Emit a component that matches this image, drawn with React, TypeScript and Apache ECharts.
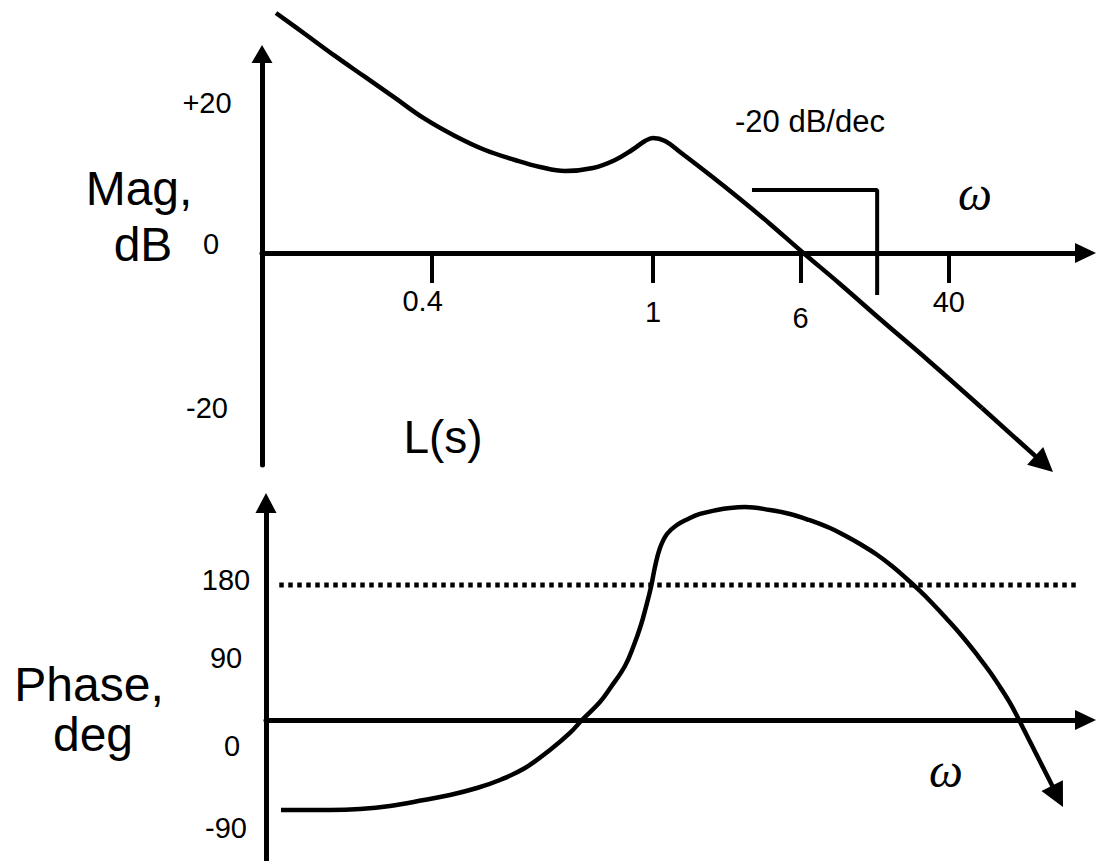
import React, { useEffect, useRef } from "react";
import * as echarts from "echarts";

// Schematic frequency axis: positions in "ω units" (0 = vertical axis, 100 = end of the ω axis)
const freqTickPos = [20.6, 47.5, 65.4, 83.4];
const freqTickLabels = ["0.4", "1", "6", "40"];

const magTickValues = [20, 0, -20];
const magTickLabels = ["+20", "0", "-20"];

const phaseTickValues = [180, 90, 0, -90];
const phaseTickLabels = ["180", "90", "0", "-90"];

// Magnitude curve, dB
const magCurve = [
  [1.70, 32.0], [5.22, 29.2], [8.86, 26.27], [12.51, 23.47], [16.15, 20.67], [19.79, 17.87],
  [23.44, 15.6], [27.08, 13.73], [30.72, 12.4], [33.76, 11.47], [36.79, 10.93], [40.19, 11.33],
  [42.87, 12.4], [44.93, 13.73], [46.51, 14.93], [47.48, 15.33], [48.94, 14.93], [50.76, 13.47],
  [54.40, 10.4], [58.05, 7.2], [61.69, 3.87], [65.45, 0.27], [70.19, -4.13], [75.05, -8.8],
  [81.12, -14.53], [87.43, -20.67],
];
const magArrow = [[87.43, -20.67], [94.97, -28.13]];
const slopeBracket = [[59.5, 8.4], [74.7, 8.4], [74.7, -5.6]];

// Phase curve, degrees
const phaseCurve = [
  [2.31, -120], [8.26, -120], [11.90, -118.7], [15.54, -114.7], [19.67, -106.7], [22.83, -100],
  [26.11, -90.7], [28.90, -80], [31.94, -64], [34.97, -40], [37.40, -17.3], [38.86, 0],
  [41.04, 24], [42.38, 44], [44.08, 72], [45.17, 100], [46.02, 126.7], [46.63, 150.7],
  [47.24, 177.3], [47.72, 204], [48.33, 229.3], [49.18, 248], [50.39, 260], [51.73, 268],
  [53.19, 274.7], [55.25, 280], [56.83, 282.7], [58.65, 284], [61.69, 280], [64.12, 274.7],
  [66.42, 266.7], [68.97, 256], [70.67, 246.7], [72.62, 234.7], [74.56, 221.3], [76.50, 205.3],
  [78.32, 188], [79.90, 172], [81.36, 156], [83.06, 136], [85.00, 112], [86.95, 85.3],
  [88.40, 64], [89.62, 44], [90.83, 22.7], [91.93, 0],
];
const phaseArrow = [[91.93, 0], [96.61, -101.7]];
const phaseRef = [[2.1, 180], [99.3, 180]];

const FONT = "Liberation Sans";
const BLACK = "#000";
const tickFont = { fontFamily: FONT, fontSize: 29, color: BLACK, lineHeight: 32 };

const nearestIdx = (arr: number[], v: number) => {
  let best = 0;
  for (let i = 1; i < arr.length; i++) if (Math.abs(arr[i] - v) < Math.abs(arr[best] - v)) best = i;
  return best;
};

export default function App() {
  const ref = useRef<HTMLDivElement>(null);
  useEffect(() => {
    const chart = echarts.init(ref.current!, null, { renderer: "svg" });
    const axisLineStyle = { color: BLACK, width: 5 };
    const phaseZero = phaseTickValues.filter((v) => v === 0);
    const phaseOthers = phaseTickValues.filter((v) => v !== 0);
    const phaseRich = {
      p0: { ...tickFont, padding: [0, 0, 10, 0] },
      p1: { ...tickFont, padding: [11, 0, 0, 0] },
      p2: { ...tickFont, padding: [52, 0, 0, 12] },
      p3: { ...tickFont, padding: [81, 0, 0, 0] },
    };
    const phaseFormatter = (v: number) => {
      const i = nearestIdx(phaseTickValues, v);
      return `{p${i}|${phaseTickLabels[i]}}`;
    };
    const option: any = {
      animation: false,
      backgroundColor: "#fff",
      grid: [
        { left: 262, right: 11.5, top: 54, bottom: 396 },
        { left: 266, right: 11.5, top: 503, bottom: 0 },
      ],
      xAxis: [
        {
          type: "value", gridIndex: 0, min: 0, max: 100, offset: -212,
          axisLine: { onZero: false, symbol: ["none", "triangle"], symbolSize: [20, 21], lineStyle: axisLineStyle },
          axisTick: { show: true, customValues: freqTickPos, length: 30, lineStyle: { color: BLACK, width: 4 } },
          axisLabel: {
            show: true, customValues: freqTickPos, margin: 32, showMinLabel: true, showMaxLabel: true,
            formatter: (v: number) => { const i = nearestIdx(freqTickPos, v); return `{f${i}|${freqTickLabels[i]}}`; },
            rich: {
              f0: { ...tickFont, padding: [0, 18, 0, 0] },
              f1: { ...tickFont, padding: [22, 0, 0, 0] },
              f2: { ...tickFont, padding: [34, 0, 0, 0] },
              f3: { ...tickFont, padding: [2, 0, 0, 0] },
            },
          },
          splitLine: { show: false },
        },
        {
          type: "value", gridIndex: 1, min: 0.49, max: 100,
          axisLine: { onZero: true, symbol: ["none", "triangle"], symbolSize: [20, 21], lineStyle: axisLineStyle },
          axisTick: { show: false }, axisLabel: { show: false }, splitLine: { show: false },
        },
      ],
      yAxis: [
        {
          type: "value", gridIndex: 0, position: "left", min: -28.27, max: 26.53,
          axisLine: { show: true, onZero: false, symbol: ["none", "triangle"], symbolSize: [21, 18], lineStyle: axisLineStyle },
          axisTick: { show: false },
          axisLabel: {
            show: true, customValues: magTickValues, margin: 55, align: "center",
            showMinLabel: true, showMaxLabel: true, hideOverlap: false,
            formatter: (v: number) => { const i = nearestIdx(magTickValues, v); return `{m${i}|${magTickLabels[i]}}`; },
            rich: {
              m0: { ...tickFont },
              m1: { ...tickFont, padding: [0, 0, 18, 8] },
              m2: { ...tickFont, padding: [10, 0, 0, 0] },
            },
          },
          splitLine: { show: false },
        },
        {
          type: "value", gridIndex: 1, position: "left", min: -188, max: 289.33,
          axisLine: { show: true, onZero: false, symbol: ["none", "triangle"], symbolSize: [21, 20], lineStyle: axisLineStyle },
          axisTick: { show: false },
          axisLabel: {
            show: true, customValues: phaseOthers, margin: 40, align: "center",
            showMinLabel: true, showMaxLabel: true, hideOverlap: false,
            formatter: phaseFormatter, rich: phaseRich,
          },
          splitLine: { show: false },
        },
        {
          type: "value", gridIndex: 1, position: "left", min: -188, max: 289.33,
          axisLine: { show: false, onZero: false },
          axisTick: { show: false },
          axisLabel: {
            show: true, customValues: phaseZero, margin: 40, align: "center",
            showMinLabel: true, showMaxLabel: true, hideOverlap: false,
            formatter: phaseFormatter, rich: phaseRich,
          },
          splitLine: { show: false },
        },
      ],
      series: [
        {
          type: "line", xAxisIndex: 0, yAxisIndex: 0, data: magCurve, smooth: 0.4,
          showSymbol: false, symbol: "none", clip: false,
          lineStyle: { color: BLACK, width: 4.5 },
        },
        {
          type: "lines", coordinateSystem: "cartesian2d", xAxisIndex: 0, yAxisIndex: 0,
          data: [{ coords: magArrow }], symbol: ["none", "triangle"], symbolSize: [18, 24], clip: false,
          lineStyle: { color: BLACK, width: 4.5, opacity: 1, curveness: 0 },
        },
        {
          type: "line", xAxisIndex: 0, yAxisIndex: 0, data: slopeBracket, smooth: false,
          showSymbol: false, symbol: "none", clip: false,
          lineStyle: { color: BLACK, width: 4 },
        },
        {
          type: "line", xAxisIndex: 1, yAxisIndex: 1, data: phaseRef,
          showSymbol: false, symbol: "none", clip: false,
          lineStyle: { color: BLACK, width: 5, type: [4.5, 4.5], cap: "butt" },
        },
        {
          type: "line", xAxisIndex: 1, yAxisIndex: 1, data: phaseCurve, smooth: 0.4,
          showSymbol: false, symbol: "none", clip: false,
          lineStyle: { color: BLACK, width: 4.5 },
        },
        {
          type: "lines", coordinateSystem: "cartesian2d", xAxisIndex: 1, yAxisIndex: 1,
          data: [{ coords: phaseArrow }], symbol: ["none", "triangle"], symbolSize: [18, 24], clip: false,
          lineStyle: { color: BLACK, width: 4.5, opacity: 1, curveness: 0 },
        },
      ],
      graphic: [
        { type: "text", x: 139, y: 188, style: { text: "Mag,", fontFamily: FONT, fontSize: 48, fill: BLACK, align: "center", verticalAlign: "middle" } },
        { type: "text", x: 143, y: 244, style: { text: "dB", fontFamily: FONT, fontSize: 48, fill: BLACK, align: "center", verticalAlign: "middle" } },
        { type: "text", x: 443, y: 437, style: { text: "L(s)", fontFamily: FONT, fontSize: 46, fill: BLACK, align: "center", verticalAlign: "middle" } },
        { type: "text", x: 810, y: 121, style: { text: "-20 dB/dec", fontFamily: FONT, fontSize: 31, fill: BLACK, align: "center", verticalAlign: "middle" } },
        { type: "text", x: 975, y: 193, style: { text: "ω", fontFamily: "Liberation Serif", fontStyle: "italic", fontSize: 48, fill: BLACK, align: "center", verticalAlign: "middle" } },
        { type: "text", x: 89, y: 684, style: { text: "Phase,", fontFamily: FONT, fontSize: 48, fill: BLACK, align: "center", verticalAlign: "middle" } },
        { type: "text", x: 93, y: 734, style: { text: "deg", fontFamily: FONT, fontSize: 48, fill: BLACK, align: "center", verticalAlign: "middle" } },
        { type: "text", x: 946, y: 770, style: { text: "ω", fontFamily: "Liberation Serif", fontStyle: "italic", fontSize: 48, fill: BLACK, align: "center", verticalAlign: "middle" } },
      ],
    };
    chart.setOption(option);
    return () => chart.dispose();
  }, []);
  return (
    <div
      ref={ref}
      style={{ position: "fixed", left: 0, top: 0, width: 1097, height: 861, background: "#fff" }}
    />
  );
}
